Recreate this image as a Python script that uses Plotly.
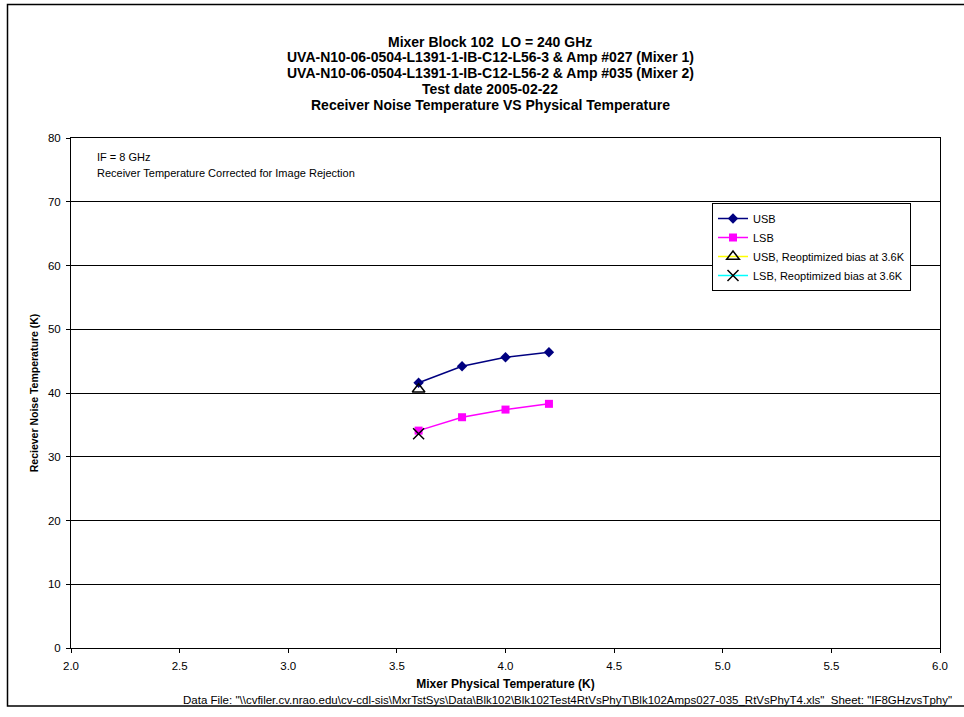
import plotly.graph_objects as go

temps = [3.6, 3.8, 4.0, 4.2]
usb = [41.6, 44.2, 45.6, 46.4]
lsb = [34.1, 36.2, 37.4, 38.3]
reopt_t = [3.6]
usb_reopt = [40.6]
lsb_reopt = [33.6]

title_lines = [
    "Mixer Block 102  LO = 240 GHz",
    "UVA-N10-06-0504-L1391-1-IB-C12-L56-3 & Amp #027 (Mixer 1)",
    "UVA-N10-06-0504-L1391-1-IB-C12-L56-2 & Amp #035 (Mixer 2)",
    "Test date 2005-02-22",
    "Receiver Noise Temperature VS Physical Temperature",
]
x_ticks = [2.0, 2.5, 3.0, 3.5, 4.0, 4.5, 5.0, 5.5, 6.0]
y_ticks = [0, 10, 20, 30, 40, 50, 60, 70, 80]

FONT = "Liberation Sans, Arial, sans-serif"

fig = go.Figure()
fig.add_trace(go.Scatter(x=temps, y=usb, mode="lines+markers", name="USB",
                         line=dict(color="#000080", width=1.5),
                         marker=dict(symbol="diamond", size=8, color="#000080")))
fig.add_trace(go.Scatter(x=temps, y=lsb, mode="lines+markers", name="LSB",
                         line=dict(color="#FF00FF", width=1.5),
                         marker=dict(symbol="square", size=8, color="#FF00FF")))
fig.add_trace(go.Scatter(x=reopt_t, y=usb_reopt, mode="lines+markers",
                         name="USB, Reoptimized bias at 3.6K",
                         line=dict(color="#FFFF00", width=1.5),
                         marker=dict(symbol="triangle-up-open", size=11, color="black",
                                     line=dict(width=1.5, color="black"))))
fig.add_trace(go.Scatter(x=reopt_t, y=lsb_reopt, mode="lines+markers",
                         name="LSB, Reoptimized bias at 3.6K",
                         line=dict(color="#00FFFF", width=1.5),
                         marker=dict(symbol="x-thin-open", size=11, color="black",
                                     line=dict(width=1.5, color="black"))))

W, H = 964, 717
L, R, T, B = 71, 24, 138, 69
pw, ph = W - L - R, H - T - B

def px(x):
    return (x - L) / pw

def py(y):
    return (H - B - y) / ph

annotations = []
for i, line in enumerate(title_lines):
    annotations.append(dict(text="<b>%s</b>" % line, x=px(490), y=py(41.5 + 15.9 * i),
                            xref="paper", yref="paper", showarrow=False,
                            font=dict(size=14, family=FONT, color="black"),
                            xanchor="center", yanchor="middle"))
annotations.append(dict(text="IF = 8 GHz", x=px(95), y=py(157), xref="paper", yref="paper",
                        showarrow=False, xanchor="left", yanchor="middle",
                        font=dict(size=11, family=FONT, color="black")))
annotations.append(dict(text="Receiver Temperature Corrected for Image Rejection",
                        x=px(95), y=py(172.5), xref="paper", yref="paper",
                        showarrow=False, xanchor="left", yanchor="middle",
                        font=dict(size=11, family=FONT, color="black")))
annotations.append(dict(text='Data File: "\\\\cvfiler.cv.nrao.edu\\cv-cdl-sis\\MxrTstSys\\Data\\Blk102\\Blk102Test4RtVsPhyT\\Blk102Amps027-035_RtVsPhyT4.xls"  Sheet: "IF8GHzvsTphy"',
                        x=px(954), y=py(700), xref="paper", yref="paper",
                        showarrow=False, xanchor="right", yanchor="middle",
                        font=dict(size=11.5, family=FONT, color="black")))

fig.update_layout(
    width=W, height=H,
    margin=dict(l=L, r=R, t=T, b=B, pad=0),
    paper_bgcolor="white", plot_bgcolor="white",
    font=dict(family=FONT, size=11.5, color="black"),
    showlegend=True,
    legend=dict(x=px(712), y=py(203), xanchor="left", yanchor="top",
                bordercolor="black", borderwidth=1, bgcolor="white",
                font=dict(size=11, family=FONT), tracegroupgap=0),
    annotations=annotations,
    shapes=[dict(type="rect", xref="paper", yref="paper",
                 x0=px(7.5), x1=px(970), y0=py(706), y1=py(4.5),
                 line=dict(color="black", width=1.5), layer="below")],
    xaxis=dict(range=[2, 6], tickvals=x_ticks, tickformat=".1f", showgrid=False,
               showline=True, linecolor="black", linewidth=1, mirror=True,
               ticks="outside", ticklen=4, tickcolor="black", zeroline=False,
               ticklabelstandoff=3,
               title=dict(text="<b>Mixer Physical Temperature (K)</b>",
                          font=dict(size=12, family=FONT), standoff=8),
               tickfont=dict(size=11.5)),
    yaxis=dict(range=[0, 80], tickvals=y_ticks, showgrid=True, gridcolor="black", gridwidth=1,
               showline=True, linecolor="black", linewidth=1, mirror=True,
               ticks="outside", ticklen=4, tickcolor="black", zeroline=False,
               ticklabelstandoff=3,
               title=dict(text="<b>Reciever Noise Temperature (K)</b>",
                          font=dict(size=10.5, family=FONT), standoff=7),
               tickfont=dict(size=11.5)),
)

fig.write_html("out.html", config={"displayModeBar": False},
               post_script="document.body.style.margin='0';")
